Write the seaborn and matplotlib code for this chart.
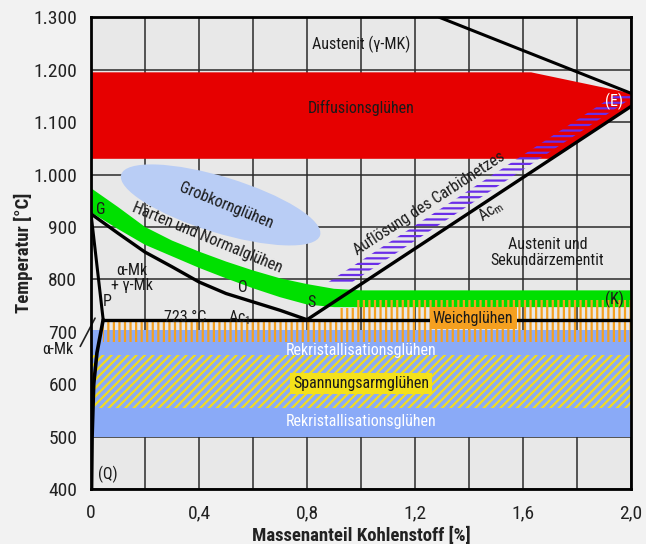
import numpy as np
import seaborn as sns
import matplotlib.pyplot as plt
import matplotlib.transforms as mtransforms
from matplotlib import font_manager as fm
from matplotlib.patches import Ellipse

# phase boundaries (C in %, T in °C)
gs_c = [0, 0.1, 0.2, 0.3, 0.4, 0.5, 0.6, 0.7, 0.8]
gs_t = [925, 888, 852, 824, 795, 773, 757, 741, 723]
gp_c = [0, 0.045]
gp_t = [925, 723]
pq_c = [0.045, 0.022, 0.01, 0.004, 0.002]
pq_t = [723, 660, 600, 500, 400]
psk_c = [0.045, 2.0]
psk_t = [723, 723]
acm_c = [0.8, 2.0]
acm_t = [723, 1130]
top_c = [1.29, 2.0]
top_t = [1300, 1155]

# heat treatment zones
diff_c = [0, 1.63, 2.0, 2.0, 1.71, 0]
diff_t = [1195, 1195, 1155, 1130, 1030, 1030]
norm_c = [0, 0.1, 0.2, 0.3, 0.4, 0.5, 0.6, 0.7, 0.8, 0.9, 1.0, 2.0]
norm_hi = [974, 938, 900, 874, 853, 834, 817, 802, 791, 782, 779, 779]
norm_lo = [928, 896, 866, 844, 822, 802, 783, 766, 752, 747, 747, 747]
soft_c = [0.045, 0.92, 0.92, 0.98, 0.98, 2.0]
soft_hi = [723, 723, 745, 745, 760, 760]
soft_lo = 680
rekr_c = [0, 2.0]
rekr_t = (500, 703)
stress_t = (555, 655)
grob_center = (0.48, 942)

xticks = [0, 0.4, 0.8, 1.2, 1.6, 2.0]
xlabels = ["0", "0,4", "0,8", "1,2", "1,6", "2,0"]
yticks = [400, 500, 600, 700, 800, 900, 1000, 1100, 1200, 1300]
ylabels = ["400", "500", "600", "700", "800", "900", "1.000", "1.100", "1.200", "1.300"]

sns.set_theme(style="white")

# pick a narrow font if one is installed
fonts = fm.fontManager.ttflist
names = {f.name for f in fonts}
narrow = [n for n in ["Liberation Sans Narrow", "Roboto Condensed", "DejaVu Sans Condensed",
                      "Arial Narrow"] if n in names]
dv_cond = any(f.name == "DejaVu Sans" and "condensed" in str(f.stretch) for f in fonts)
if narrow:
    main, scale = narrow[0], 1.0
elif dv_cond:
    main, scale = "DejaVu Sans", 0.95
    plt.rcParams["font.stretch"] = "condensed"
elif "Roboto" in names:
    main, scale = "Roboto", 0.88
else:
    main, scale = "DejaVu Sans", 0.82
plt.rcParams["font.family"] = [main, "DejaVu Sans"]
plt.rcParams["mathtext.fontset"] = "custom"
plt.rcParams["mathtext.rm"] = main
plt.rcParams["hatch.linewidth"] = 1.6

fig = plt.figure(figsize=(6.46, 5.44), dpi=100, facecolor="#f2f2f2")
ax = fig.add_axes([0.1409, 0.1011, 0.8359, 0.8671])
ax.set_facecolor("#e8e8e8")
ax.set_xlim(0, 2.0)
ax.set_ylim(400, 1300)


def band(xs, lo, hi, **kw):
    xs = list(xs)
    lo = list(lo) if np.ndim(lo) else [lo] * len(xs)
    hi = list(hi) if np.ndim(hi) else [hi] * len(xs)
    return ax.fill(xs + xs[::-1], hi + lo[::-1], **kw)


# filled zones
ax.fill(diff_c, diff_t, color="#e60000", lw=0, zorder=1)
band(norm_c, norm_lo, norm_hi, color="#00e000", lw=0, zorder=1)
band(rekr_c, rekr_t[0], rekr_t[1], color="#8aaaf7", lw=0, zorder=1)
ell = Ellipse((0, 0), 2.08, 0.56, angle=-17, color="#b9cdf5", lw=0, zorder=1,
              transform=fig.dpi_scale_trans
              + mtransforms.ScaledTranslation(*grob_center, ax.transData))
ax.add_patch(ell)

# hatched zones
band(rekr_c, stress_t[0], stress_t[1], facecolor="none", edgecolor="#f2dc1e",
     hatch="////", lw=0, zorder=1.5)
band(soft_c, soft_lo, soft_hi, facecolor="none", edgecolor="#f5a020",
     hatch="|||", lw=0, zorder=2)
acm = lambda x: np.interp(x, acm_c, acm_t)
pur_c = [0.87, 1.935, 2.0, 2.0, 0.96]
pur_t = [acm(0.87) + 45, 1150, 1150, acm(2.0) + 15, acm(0.96) + 15]
ax.fill(pur_c, pur_t, facecolor="none", edgecolor="#6a2ee8", hatch="---",
        lw=0, zorder=2)

# phase lines
for xs, ys, w in [(gs_c, gs_t, 2.4), (gp_c, gp_t, 2.2), (pq_c, pq_t, 2.6),
                  (psk_c, psk_t, 2.4), (acm_c, acm_t, 2.4), (top_c, top_t, 2.2)]:
    sns.lineplot(x=xs, y=ys, ax=ax, color="black", lw=w, sort=False,
                 estimator=None, zorder=3)
ax.plot([-0.04, 0.015], [672, 726], color="#222222", lw=1.2, clip_on=False)

# grid and frame
ax.set_xticks(xticks)
ax.set_xticklabels(xlabels)
ax.set_xticks(np.arange(0.2, 2.0, 0.4), minor=True)
ax.set_yticks(yticks)
ax.set_yticklabels(ylabels)
ax.set_axisbelow(True)
ax.grid(which="both", color="#2a2a2a", lw=1.1)
ax.tick_params(which="both", length=0, labelsize=14 * scale, colors="#222222")
ax.tick_params(axis="x", pad=11)
ax.tick_params(axis="y", pad=10)
for s in ax.spines.values():
    s.set_color("black")
    s.set_linewidth(2)
    s.set_zorder(5)
ax.set_xlabel("Massenanteil Kohlenstoff [%]", fontsize=13.5 * scale,
              fontweight="bold", color="#222222")
ax.set_ylabel("Temperatur [°C]", fontsize=13.5 * scale, fontweight="bold",
              color="#222222")
ax.xaxis.set_label_coords(0.5, -0.08)
ax.yaxis.set_label_coords(-0.108, 0.5)

# labels
fs = 11.5 * scale
tk = dict(fontsize=fs, color="#1a1a1a", ha="center", va="center", zorder=4)
ax.text(1.0, 1249, "Austenit (γ-MK)", **tk)
ax.text(1.0, 1127, "Diffusionsglühen", **tk)
ax.text(1.937, 1139, "(E)", **{**tk, "color": "white"})
ax.text(1.69, 851, "Austenit und\nSekundärzementit", linespacing=1.05, **tk)
ax.text(0.50, 940, "Grobkornglühen", rotation=-22, **tk)
ax.text(0.43, 880, "Härten und Normalglühen", rotation=-22.5, **tk)
ax.text(1.25, 946, "Auflösung des Carbidnetzes", rotation=33, **tk)
ax.text(1.48, 931, r"Ac$_\mathrm{m}$", rotation=34, **tk)
ax.text(0.037, 933, "G", **tk)
ax.text(0.563, 784, "O", **tk)
ax.text(0.815, 755, "S", **tk)
ax.text(0.06, 757, "P", **tk)
ax.text(1.94, 761, "(K)", **tk)
ax.text(0.15, 803, "α-Mk\n+ γ-Mk", linespacing=1.0, **tk)
ax.text(0.35, 727, "723 °C", **tk)
ax.text(0.55, 727, r"Ac$_\mathrm{1}$", **tk)
ax.text(1.415, 726, "Weichglühen", bbox=dict(boxstyle="square,pad=0.2",
        fc="#f5a020", ec="none"), **tk)
ax.text(1.0, 665, "Rekristallisationsglühen", **{**tk, "color": "white"})
ax.text(1.0, 528, "Rekristallisationsglühen", **{**tk, "color": "white"})
ax.text(1.0, 601, "Spannungsarmglühen", bbox=dict(boxstyle="square,pad=0.2",
        fc="#f5e11a", ec="none"), **tk)
ax.text(0.063, 427, "(Q)", **tk)
ax.text(-0.122, 666, "α-Mk", clip_on=False, **tk)

fig.savefig("out.png", dpi=100, facecolor=fig.get_facecolor())
